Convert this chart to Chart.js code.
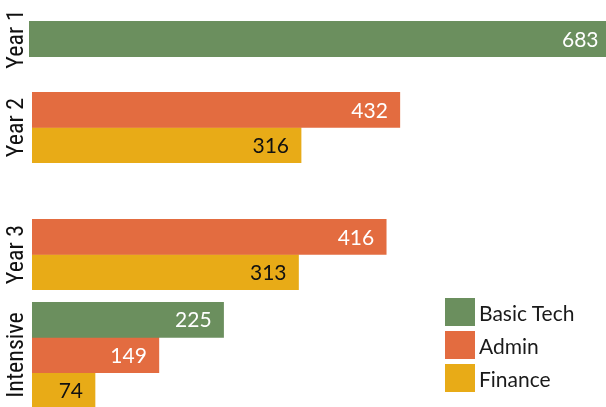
<!DOCTYPE html>
<html>
<head>
<meta charset="utf-8">
<script src="https://cdn.jsdelivr.net/npm/chart.js@4/dist/chart.umd.min.js"></script>
<style>
  html, body { margin: 0; padding: 0; background: #fff; overflow: hidden; }
  #wrap { position: relative; width: 606px; height: 407px; overflow: hidden; }
  .group { position: absolute; left: 0; }
  .group canvas { display: block; }
  #legend { position: absolute; left: 445px; top: 298px; font-family: Lato, sans-serif; font-size: 21px; color: #1a1a1a; }
  .item { display: flex; align-items: center; height: 28px; margin-bottom: 5px; }
  .swatch { width: 30px; height: 28px; margin-right: 4px; }
</style>
</head>
<body>
<div id="wrap"><div id="legend"></div></div>
<script>
// data
const groups = ["Year 1", "Year 2", "Year 3", "Intensive"];
const seriesNames = ["Basic Tech", "Admin", "Finance"];
const basicTech = [683, null, null, 225];
const admin = [null, 432, 416, 149];
const finance = [null, 316, 313, 74];

const colors = ["#6b8f5e", "#e36c40", "#e8ab17"];
const labelColors = ["#ffffff", "#ffffff", "#111111"];

// one small chart per group, stacked like the original facets
const layout = [
  { top: 21, height: 36, axisWidth: 29 },
  { top: 92, height: 71, axisWidth: 32 },
  { top: 219, height: 71, axisWidth: 32 },
  { top: 302, height: 106, axisWidth: 32 },
];
const pad = 24;
const xMax = 700;
const plotWidth = 596;

const valueLabels = {
  id: "valueLabels",
  afterDatasetsDraw(chart) {
    const ctx = chart.ctx;
    ctx.save();
    ctx.font = "21px Lato";
    ctx.textAlign = "right";
    ctx.textBaseline = "middle";
    chart.data.datasets.forEach((ds, i) => {
      chart.getDatasetMeta(i).data.forEach((bar, j) => {
        const v = ds.data[j];
        if (v == null) return;
        ctx.fillStyle = labelColors[i];
        ctx.fillText(v, bar.x - 12, bar.y + 1);
      });
    });
    ctx.restore();
  }
};

const wrap = document.getElementById("wrap");
const allSeries = [basicTech, admin, finance];

groups.forEach((g, k) => {
  const box = layout[k];
  const div = document.createElement("div");
  div.className = "group";
  div.style.top = (box.top - pad) + "px";
  const canvas = document.createElement("canvas");
  canvas.width = box.axisWidth + plotWidth;
  canvas.height = box.height + 2 * pad;
  div.appendChild(canvas);
  wrap.insertBefore(div, document.getElementById("legend"));

  new Chart(canvas, {
    type: "bar",
    data: {
      labels: [g],
      datasets: seriesNames.map((name, i) => ({
        label: name,
        data: [allSeries[i][k]],
        backgroundColor: colors[i],
        borderWidth: 0,
        skipNull: true,
        categoryPercentage: 1,
        barPercentage: 1,
      })),
    },
    options: {
      indexAxis: "y",
      responsive: false,
      animation: false,
      layout: { padding: { top: pad, bottom: pad, left: 0, right: 0 } },
      scales: {
        x: { type: "linear", min: 0, max: xMax, display: false },
        y: {
          grid: { display: false },
          border: { display: false },
          ticks: { display: false },
          title: {
            display: true,
            text: g,
            color: "#111",
            font: { family: "'Roboto Condensed', 'Open Sans Condensed', sans-serif", size: 24, lineHeight: 1 },
            padding: { top: 5, bottom: 0 },
          },
          afterFit: (scale) => { scale.width = box.axisWidth; },
        },
      },
      plugins: {
        legend: { display: false },
        tooltip: { enabled: false },
      },
    },
    plugins: [valueLabels],
  });
});

// legend
const legend = document.getElementById("legend");
seriesNames.forEach((name, i) => {
  const item = document.createElement("div");
  item.className = "item";
  item.innerHTML = '<div class="swatch" style="background:' + colors[i] + '"></div><span>' + name + '</span>';
  legend.appendChild(item);
});
</script>
</body>
</html>
